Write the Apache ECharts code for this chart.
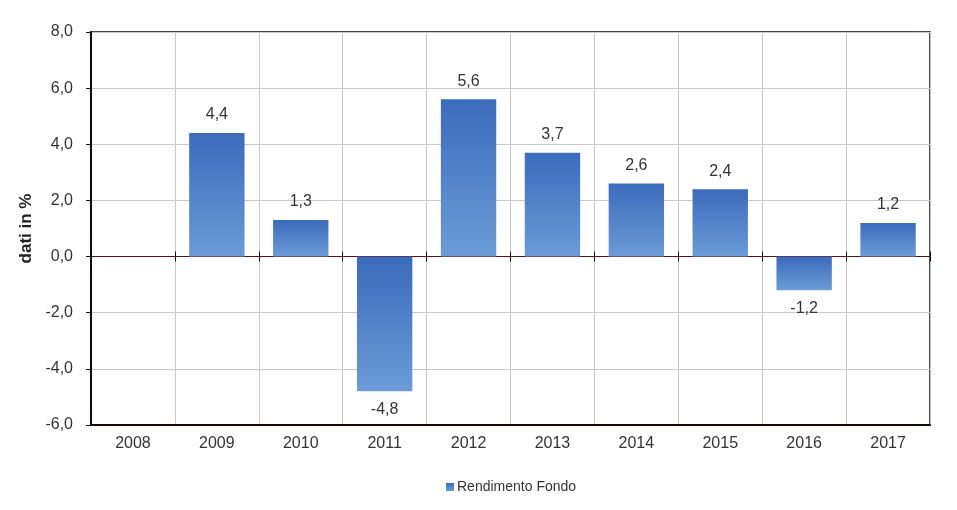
<!DOCTYPE html>
<html><head><meta charset="utf-8">
<script src="https://cdn.jsdelivr.net/npm/echarts@6/dist/echarts.min.js"></script>
<style>html,body{margin:0;padding:0;background:#fff}#c{width:957px;height:510px}</style>
</head><body><div id="c"></div>
<script>
var categories = ['2008','2009','2010','2011','2012','2013','2014','2015','2016','2017'];
var rendimento = [null, 4.4, 1.3, -4.8, 5.6, 3.7, 2.6, 2.4, -1.2, 1.2];
var seriesName = 'Rendimento Fondo';
var yMin = -6, yMax = 8, yStep = 2;

function fmt(v){ return v.toFixed(1).replace('.', ','); }
var grad = new echarts.graphic.LinearGradient(0,0,0,1,[{offset:0,color:'#3b6bbb'},{offset:1,color:'#6c9bd7'}]);
var dataItems = rendimento.map(function(v){
  if (v === null) return {value: null};
  return {value: v, label: {position: v < 0 ? 'bottom' : 'top'}};
});
var gridBox = {left: 91, right: 27, top: 32, bottom: 85};
var chart = echarts.init(document.getElementById('c'));
chart.setOption({
  animation: false,
  textStyle: {fontFamily: 'Liberation Sans, Arial, sans-serif'},
  grid: [
    Object.assign({show: true, borderColor: '#1a0808', borderWidth: 1.5, backgroundColor: 'transparent'}, gridBox),
    Object.assign({show: false}, gridBox)
  ],
  legend: {bottom: 11, left: 441, itemWidth: 8, itemHeight: 8, icon: 'rect', itemGap: 4,
    textStyle: {fontSize: 14, color: '#333', padding: [0,0,0,-2], fontFamily: 'Liberation Sans, Arial, sans-serif'}, data: [seriesName]},
  xAxis: [{
    type: 'category', data: categories, position: 'bottom', gridIndex: 0,
    axisLine: {onZero: false, lineStyle: {color: '#1a0808', width: 2}},
    axisTick: {show: false},
    axisLabel: {fontSize: 16, color: '#333', margin: 11},
    splitLine: {show: true, lineStyle: {color: '#c8c8c8', width: 1}}
  },{
    type: 'category', data: categories, position: 'bottom', gridIndex: 0,
    axisLine: {onZero: true, lineStyle: {color: '#5a1010', width: 1}},
    axisTick: {show: true, inside: true, length: 5, lineStyle: {color: '#111'}},
    axisLabel: {show: false}, splitLine: {show: false}
  },{
    type: 'category', data: categories, position: 'bottom', gridIndex: 1,
    axisLine: {onZero: true, show: true, lineStyle: {color: 'rgba(0,0,0,0)'}},
    axisTick: {show: true, inside: false, length: 5, lineStyle: {color: '#111'}},
    axisLabel: {show: false}, splitLine: {show: false}
  }],
  yAxis: [{
    type: 'value', min: yMin, max: yMax, interval: yStep, gridIndex: 0,
    name: 'dati in %', nameLocation: 'middle', nameGap: 52,
    nameTextStyle: {fontSize: 17, fontWeight: 'bold', color: '#222'},
    axisLine: {show: true, lineStyle: {color: '#1a0808', width: 2}},
    axisTick: {show: true, length: 5, lineStyle: {color: '#111', width: 1}},
    axisLabel: {fontSize: 16, color: '#333', margin: 18, formatter: function(v){return fmt(v);}},
    splitLine: {show: true, lineStyle: {color: '#c8c8c8', width: 1}}
  },{
    type: 'value', min: yMin, max: yMax, interval: yStep, gridIndex: 1, show: false
  }],
  series: [{
    name: seriesName, type: 'bar', data: dataItems, barWidth: '66%',
    xAxisIndex: 0, yAxisIndex: 0,
    itemStyle: {color: grad},
    label: {show: true, fontSize: 16, color: '#333', distance: 10, formatter: function(p){return fmt(p.value);}}
  }]
});
</script></body></html>
